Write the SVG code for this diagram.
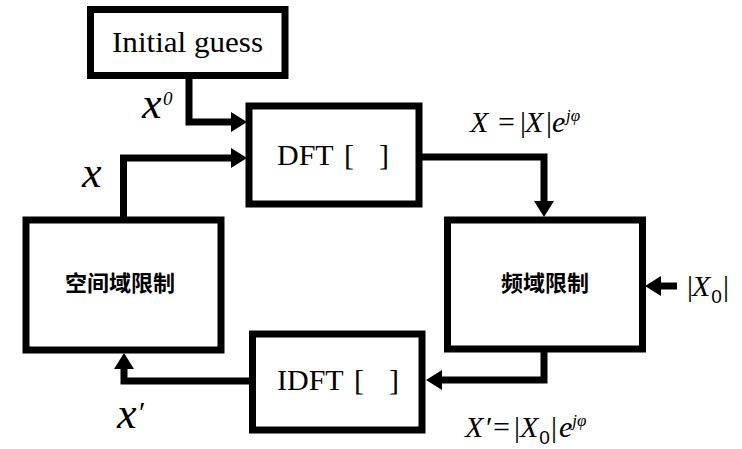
<svg xmlns="http://www.w3.org/2000/svg" width="742" height="449" viewBox="0 0 742 449">
<defs>
<style>
.box{fill:#fff;stroke:#000;stroke-width:7}
.wire{fill:none;stroke:#000;stroke-width:7}
.lbl{font-family:'Liberation Serif','Times New Roman','DejaVu Serif',serif;fill:#000}
.cjk{font-family:'Noto Sans CJK SC','Noto Sans',sans-serif;font-weight:bold;font-size:22px;fill:#000}
.m{font-family:'Liberation Serif','Times New Roman','DejaVu Serif',serif;font-style:italic;fill:#000}
.u{font-style:normal}
.s{font-family:'Liberation Sans',Arial,sans-serif;font-style:normal}
</style>
<marker id="ah" markerUnits="userSpaceOnUse" markerWidth="16" markerHeight="20" refX="0" refY="10" orient="auto">
<path d="M0,0 L16,10 L0,20 z" fill="#000"/>
</marker>
</defs>
<rect width="742" height="449" fill="#fff"/>
<g id="connectors">
<path class="wire" d="M189,75 V122 H231" marker-end="url(#ah)"/>
<path class="wire" d="M123.5,218 V158 H231" marker-end="url(#ah)"/>
<path class="wire" d="M419,157 H544 V201" marker-end="url(#ah)"/>
<path class="wire" d="M544,349 V380 H442" marker-end="url(#ah)"/>
<path class="wire" d="M252,381 H124 V369" marker-end="url(#ah)"/>
<path class="wire" d="M677,286 H661" marker-end="url(#ah)"/>
</g>
<g id="initial">
<rect class="box" x="90.5" y="9.5" width="194.5" height="66"/>
<text class="lbl" x="187.5" y="52" font-size="29" text-anchor="middle" textLength="151" lengthAdjust="spacingAndGlyphs">Initial guess</text>
</g>
<g id="dft">
<rect class="box" x="249" y="106" width="170" height="98"/>
<text class="lbl" y="165" font-size="30"><tspan x="277">DFT</tspan><tspan x="344">[</tspan><tspan x="379">]</tspan></text>
</g>
<g id="spatial">
<rect class="box" x="26" y="220" width="195" height="130"/>
<text class="cjk" x="120" y="291" text-anchor="middle">空间域限制</text>
</g>
<g id="freq">
<rect class="box" x="447.5" y="220" width="195" height="129"/>
<text class="cjk" x="545" y="291" text-anchor="middle">频域限制</text>
</g>
<g id="idft">
<rect class="box" x="252.5" y="334" width="169.5" height="96"/>
<text class="lbl" y="390" font-size="30"><tspan x="277">IDFT</tspan><tspan x="354">[</tspan><tspan x="389">]</tspan></text>
</g>
<g id="labels">
<text class="m" x="142" y="118" font-size="44">x<tspan font-size="19" x="163" y="105">0</tspan></text>
<text class="m" x="82" y="187" font-size="44">x</text>
<text class="m" x="117" y="428" font-size="44">x<tspan class="u" font-size="30" x="139" y="422">′</tspan></text>
<text class="m" y="132" font-size="30"><tspan x="470">X</tspan><tspan class="u" x="498">=</tspan><tspan class="u" x="520">|</tspan><tspan x="525">X</tspan><tspan class="u" x="546">|</tspan><tspan x="552">e</tspan><tspan font-size="17" x="566" y="121">jφ</tspan></text>
<text class="m" y="437" font-size="30"><tspan x="465">X</tspan><tspan class="u" x="486">′</tspan><tspan class="u" x="493">=</tspan><tspan class="u" x="514">|</tspan><tspan x="520">X</tspan><tspan class="s" font-size="19" dx="1" dy="7">0</tspan><tspan class="u" dx="1" dy="-7">|</tspan><tspan dx="2">e</tspan><tspan font-size="17" dy="-11">jφ</tspan></text>
<text class="m" y="296" font-size="30"><tspan class="u" x="687">|</tspan><tspan x="692">X</tspan><tspan class="s" font-size="19" dx="1" dy="7">0</tspan><tspan class="u" dx="1" dy="-7">|</tspan></text>
</g>
</svg>
